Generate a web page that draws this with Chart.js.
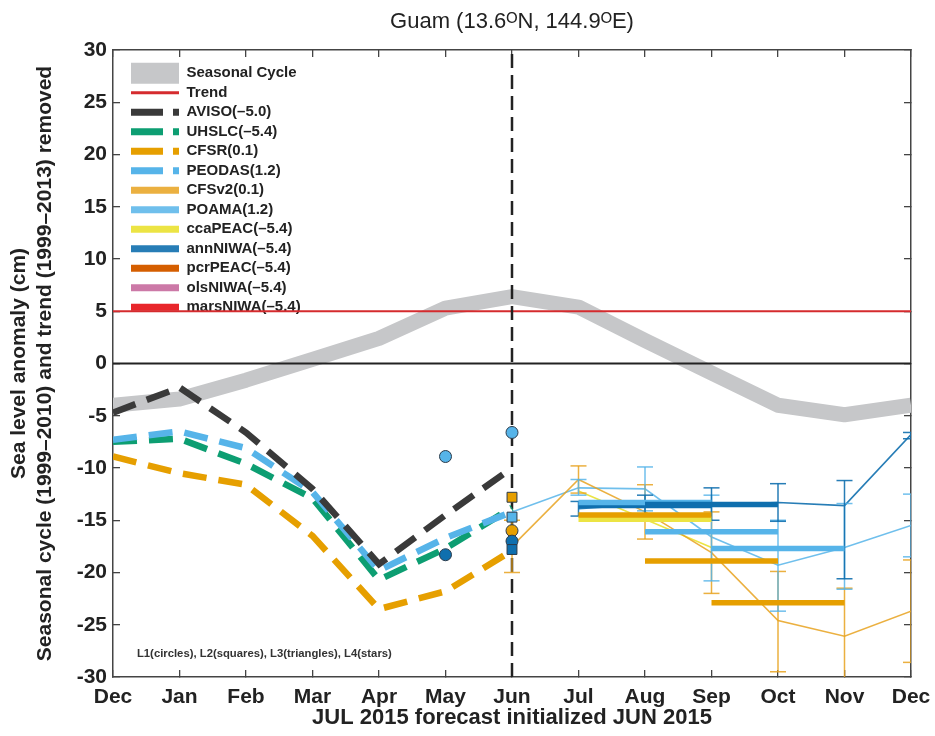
<!DOCTYPE html>
<html><head><meta charset="utf-8">
<script src="https://cdn.jsdelivr.net/npm/chart.js@4.4.1/dist/chart.umd.min.js"></script>
<style>html,body{margin:0;padding:0;background:#fff}canvas{display:block}</style>
</head><body>
<canvas id="c" width="935" height="736"></canvas>
<script>
// ---------------- data ----------------
const months = ['Dec','Jan','Feb','Mar','Apr','May','Jun','Jul','Aug','Sep','Oct','Nov','Dec'];
const yTickValues = [-30,-25,-20,-15,-10,-5,0,5,10,15,20,25,30];
const titleText = 'Guam (13.6\u1D3CN, 144.9\u1D3CE)';
const xTitle = 'JUL 2015 forecast initialized JUN 2015';
const yTitle = ['Sea level anomaly (cm)', 'Seasonal cycle (1999\u20132010) and trend (1999\u20132013) removed'];
const noteText = 'L1(circles), L2(squares), L3(triangles), L4(stars)';

const seasonalCycle = [-4.0, -3.4, -1.6, 0.4, 2.4, 5.3, 6.4, 5.4, 2.2, -0.9, -4.0, -4.9, -4.0];
const trendLevel = 5;
const zeroLevel = 0;
const initMonth = 6;

const obsMonths = [0, 1, 2, 3, 4, 5, 6];
const aviso  = [-4.7, -2.3, -6.6, -12.0, -19.2, -14.5, -10.0];
const uhslc  = [-7.5, -7.2, -9.6, -12.9, -20.7, -17.7, -13.8];
const cfsr   = [-8.9, -10.5, -11.6, -16.5, -23.5, -21.8, -17.9];
const peodas = [-7.3, -6.5, -8.1, -12.3, -19.8, -16.7, -14.2];

const cfsv2Months = [6, 7, 8, 9, 10, 11, 12];
const cfsv2     = [-17.5, -11.1, -14.2, -18.1, -24.6, -26.1, -23.7];
const cfsv2High = [-15.0, -9.8, -11.6, -14.2, -19.9, -21.5, -18.8];
const cfsv2Low  = [-20.0, -12.4, -16.8, -22.0, -29.5, -30.7, -28.6];

const poamaMonths = [6, 7, 8, 9, 10, 11, 12];
const poama = [-14.2, -11.9, -12.0, -16.6, -19.3, -17.6, -15.5];
const poamaErrMonths = [7, 8, 9, 10, 11, 12];
const poamaHigh = [-11.1, -9.9, -12.6, -15.0, -13.4, -12.5];
const poamaLow  = [-12.6, -14.1, -20.8, -23.7, -21.6, -18.5];

const annNiwaMonths = [7, 8, 9, 10, 11, 12];
const annNiwa     = [-13.9, -13.5, -13.5, -13.3, -13.6, -6.8];
const annNiwaHigh = [-13.2, -12.6, -11.9, -11.5, -11.2, -6.6];
const annNiwaLow  = [-14.6, -14.4, -15.0, -15.1, -20.6, -7.2];

const ccaPeacMonths = [7, 8, 9];
const ccaPeac = [-12.2, -14.9, -17.6];

const seasonStart = [7, 8, 9];   // JAS, ASO, SON
const seasonEnd   = [9, 10, 11];
const cfsv2Seasonal   = [-14.5, -18.9, -22.9];
const poamaSeasonal   = [-13.3, -16.1, -17.7];
const annNiwaSeasonal = [-13.6, -13.5, null];
const ccaPeacSeasonal = [-14.9, null, null];

const circleMonths = [5, 5, 6, 6, 6];
const circleValues = [-8.9, -18.3, -6.6, -16.0, -17.0];
const circleModels = ['POAMA', 'annNIWA', 'POAMA', 'CFSv2', 'annNIWA'];
const squareMonths = [6, 6, 6];
const squareValues = [-12.8, -14.7, -17.8];
const squareModels = ['CFSv2', 'POAMA', 'annNIWA'];

const legendLabels = ['Seasonal Cycle','Trend','AVISO(\u20135.0)','UHSLC(\u20135.4)','CFSR(0.1)','PEODAS(1.2)',
  'CFSv2(0.1)','POAMA(1.2)','ccaPEAC(\u20135.4)','annNIWA(\u20135.4)','pcrPEAC(\u20135.4)','olsNIWA(\u20135.4)','marsNIWA(\u20135.4)'];

// ---------------- style ----------------
const COL = {
  gray:'#c6c7c9', trend:'#d52b2e', black:'#3a3a3a', green:'#0d9e72', orange:'#e69f00',
  lightblue:'#56b4e9', yellow:'#ece444', blue:'#0f6fae', vermillion:'#d55e00', pink:'#cc79a7', mars:'#e8262b',
  orangeThin:'rgba(232,162,30,0.85)', lightThin:'rgba(86,180,233,0.85)', blueThin:'rgba(15,111,174,0.9)'
};
const modelColor = { POAMA: COL.lightblue, annNIWA: COL.blue, CFSv2: COL.orange };
const FONT = '"Liberation Sans", Arial, Helvetica, sans-serif';
const notePos = [0.36, -27.75];

const pts = (xs, ys) => xs.map((x, i) => ({x, y: ys[i]}));
const errPts = (xs, hi, lo) => xs.flatMap((x, i) => [{x, y: hi[i]}, {x, y: lo[i]}, {x, y: null}]);
const seasonPts = (vals, only) => vals.flatMap((v, i) => (v === null || (only !== undefined && only !== i)) ? [] :
  [{x: seasonStart[i], y: v}, {x: seasonEnd[i], y: v}, {x: seasonEnd[i], y: null}]);
const flatLine = (v) => [{x: 0, y: v}, {x: months.length - 1, y: v}];

const base = {pointRadius: 0, pointHoverRadius: 0, tension: 0, fill: false, spanGaps: false};
const dashed = [24, 12];
const legendDash = [32, 10];

const datasets = [
  {...base, label: 'Seasonal Cycle', inLegend: true, legendWidth: 21, data: pts(months.map((m,i)=>i), seasonalCycle),
    borderColor: COL.gray, borderWidth: 15, borderJoinStyle: 'round', order: 100},
  {...base, label: 'Zero', data: flatLine(zeroLevel), borderColor: '#222', borderWidth: 2, order: 95},
  {...base, label: 'Trend', inLegend: true, legendWidth: 3, data: flatLine(trendLevel), borderColor: COL.trend, borderWidth: 2, order: 94},
  {...base, label: 'Init', data: [{x: initMonth, y: -30}, {x: initMonth, y: 30}], borderColor: '#222', borderWidth: 2.5, borderDash: [14, 7], order: 90},
  {...base, label: 'CFSR(0.1)', inLegend: true, legendWidth: 7, legendDash, data: pts(obsMonths, cfsr), borderColor: COL.orange, borderWidth: 6.5, borderDash: dashed, order: 80},
  {...base, label: 'UHSLC(\u20135.4)', inLegend: true, legendWidth: 7, legendDash, data: pts(obsMonths, uhslc), borderColor: COL.green, borderWidth: 6.5, borderDash: dashed, order: 78},
  {...base, label: 'PEODAS(1.2)', inLegend: true, legendWidth: 7, legendDash, data: pts(obsMonths, peodas), borderColor: COL.lightblue, borderWidth: 6.5, borderDash: dashed, order: 76},
  {...base, label: 'AVISO(\u20135.0)', inLegend: true, legendWidth: 7, legendDash, data: pts(obsMonths, aviso), borderColor: COL.black, borderWidth: 6.5, borderDash: dashed, order: 74},
  {...base, label: 'CFSv2(0.1)', inLegend: true, legendWidth: 7, data: pts(cfsv2Months, cfsv2), borderColor: COL.orangeThin, borderWidth: 1.6, order: 60},
  {...base, label: 'POAMA(1.2)', inLegend: true, legendWidth: 7, data: pts(poamaMonths, poama), borderColor: COL.lightThin, borderWidth: 1.6, order: 61},
  {...base, label: 'ccaPEAC(\u20135.4)', inLegend: true, legendWidth: 7, data: pts(ccaPeacMonths, ccaPeac), borderColor: COL.yellow, borderWidth: 1.6, order: 62},
  {...base, label: 'annNIWA(\u20135.4)', inLegend: true, legendWidth: 7, data: pts(annNiwaMonths, annNiwa), borderColor: COL.blueThin, borderWidth: 1.6, order: 59},
  {...base, label: 'pcrPEAC(\u20135.4)', inLegend: true, legendWidth: 7, data: [], borderColor: COL.vermillion, borderWidth: 2, order: 58},
  {...base, label: 'olsNIWA(\u20135.4)', inLegend: true, legendWidth: 7, data: [], borderColor: COL.pink, borderWidth: 2, order: 58},
  {...base, label: 'marsNIWA(\u20135.4)', inLegend: true, legendWidth: 7, data: [], borderColor: COL.mars, borderWidth: 2, order: 58},
  // error bars
  {...base, label: 'CFSv2 spread', data: errPts(cfsv2Months, cfsv2High, cfsv2Low), borderColor: COL.orangeThin, borderWidth: 1.5,
    pointStyle: 'line', pointRadius: 8, pointBorderWidth: 1.5, pointBorderColor: COL.orangeThin, clip: 0, order: 57},
  {...base, label: 'POAMA spread', data: errPts(poamaErrMonths, poamaHigh, poamaLow), borderColor: COL.lightThin, borderWidth: 1.5,
    pointStyle: 'line', pointRadius: 8, pointBorderWidth: 1.5, pointBorderColor: COL.lightThin, clip: 0, order: 56},
  {...base, label: 'annNIWA spread', data: errPts(annNiwaMonths, annNiwaHigh, annNiwaLow), borderColor: COL.blueThin, borderWidth: 1.5,
    pointStyle: 'line', pointRadius: 8, pointBorderWidth: 1.5, pointBorderColor: COL.blueThin, clip: 0, order: 55},
  // seasonal means
  {...base, label: 'ccaPEAC seasonal', data: seasonPts(ccaPeacSeasonal), borderColor: COL.yellow, borderWidth: 5.5, order: 50},
  {...base, label: 'annNIWA JAS', data: seasonPts(annNiwaSeasonal, 0), borderColor: COL.blue, borderWidth: 5.5, order: 49.5},
  {...base, label: 'POAMA seasonal', data: seasonPts(poamaSeasonal), borderColor: COL.lightblue, borderWidth: 5.5, order: 49},
  {...base, label: 'annNIWA ASO', data: seasonPts(annNiwaSeasonal, 1), borderColor: COL.blue, borderWidth: 5.5, order: 48},
  {...base, label: 'CFSv2 seasonal', data: seasonPts(cfsv2Seasonal), borderColor: COL.orange, borderWidth: 5.5, order: 47},
  // L1 / L2 markers
  {...base, label: 'L1 circles', showLine: false, data: pts(circleMonths, circleValues), pointStyle: 'circle', pointRadius: 6,
    pointBackgroundColor: circleModels.map(m => modelColor[m]), pointBorderColor: '#2a3a4a', pointBorderWidth: 1, order: 10},
  {...base, label: 'L2 squares', showLine: false, data: pts(squareMonths, squareValues), pointStyle: 'rect', pointRadius: 7,
    pointBackgroundColor: squareModels.map(m => modelColor[m]), pointBorderColor: '#2a3a4a', pointBorderWidth: 1, order: 9}
];

const AXIS = '#444';
const tickFont = {family: FONT, size: 21, weight: 'bold'};
const noPad = s => { s.paddingLeft = 0; s.paddingRight = 0; };

const placeLegend = {
  id: 'placeLegend',
  afterLayout(chart) {
    const lg = chart.legend, ca = chart.chartArea;
    if (!lg) return;
    lg.left = ca.left + 13.5; lg.top = ca.top + 11.3;
    lg.right = ca.right; lg.bottom = ca.bottom;
  }
};
const notePlugin = {
  id: 'note',
  afterDatasetsDraw(chart) {
    const {ctx, scales: {x, y}} = chart;
    ctx.save();
    ctx.font = 'bold 11.3px ' + FONT;
    ctx.fillStyle = '#333';
    ctx.textBaseline = 'middle';
    ctx.fillText(noteText, x.getPixelForValue(notePos[0]), y.getPixelForValue(notePos[1]));
    ctx.restore();
  }
};

Chart.defaults.font.family = FONT;
Chart.defaults.color = '#222';

new Chart(document.getElementById('c'), {
  type: 'line',
  data: {datasets},
  plugins: [placeLegend, notePlugin],
  options: {
    responsive: false, animation: false, events: [],
    layout: {padding: 0},
    plugins: {
      tooltip: {enabled: false},
      title: {display: true, text: titleText, fullSize: false, color: '#222',
        font: {family: FONT, size: 22, weight: 'normal'}, padding: {top: 9, bottom: 3}},
      legend: {
        display: true, position: 'chartArea', align: 'start',
        labels: {
          usePointStyle: true, pointStyleWidth: 48, boxWidth: 48, boxHeight: 15, padding: 4.5,
          color: '#222', font: {family: FONT, size: 15, weight: 'bold'},
          generateLabels(chart) {
            const dss = chart.data.datasets;
            return legendLabels.map(lbl => {
              const i = dss.findIndex(d => d.label === lbl);
              const d = dss[i];
              return {text: lbl, datasetIndex: i, strokeStyle: d.borderColor, fillStyle: d.borderColor,
                lineWidth: d.legendWidth, lineDash: d.legendDash || [], lineCap: 'butt',
                pointStyle: 'line', hidden: false, fontColor: '#222'};
            });
          }
        }
      }
    },
    scales: {
      x: {type: 'linear', position: 'bottom', min: 0, max: months.length - 1,
        afterBuildTicks: s => { s.ticks = months.map((m, i) => ({value: i})); },
        afterFit: s => { s.height = 59; noPad(s); },
        ticks: {autoSkip: false, maxRotation: 0, padding: 15, font: tickFont, color: '#222', callback: v => months[v]},
        grid: {drawOnChartArea: false, drawTicks: true, tickLength: -7, color: AXIS, lineWidth: 1.3},
        border: {display: true, color: AXIS, width: 1.5},
        title: {display: true, text: xTitle, color: '#222', font: {family: FONT, size: 22, weight: 'bold'}, padding: {top: 0, bottom: 5}}
      },
      x2: {type: 'linear', axis: 'x', position: 'top', min: 0, max: months.length - 1,
        afterBuildTicks: s => { s.ticks = months.map((m, i) => ({value: i})); },
        afterFit: s => { s.height = 11.6; noPad(s); },
        ticks: {display: false},
        grid: {drawOnChartArea: false, drawTicks: true, tickLength: -7, color: AXIS, lineWidth: 1.3},
        border: {display: true, color: AXIS, width: 1.5}
      },
      y: {type: 'linear', position: 'left', min: -30, max: 30,
        afterBuildTicks: s => { s.ticks = yTickValues.map(v => ({value: v})); },
        afterFit: s => { s.width = 113; },
        ticks: {padding: 13, font: tickFont, color: '#222'},
        grid: {drawOnChartArea: false, drawTicks: true, tickLength: -7, color: AXIS, lineWidth: 1.3},
        border: {display: true, color: AXIS, width: 1.5},
        title: {display: true, text: yTitle, color: '#222', font: {family: FONT, size: 21, weight: 'bold', lineHeight: 1.25}, padding: {top: 6, bottom: 0}}
      },
      y2: {type: 'linear', axis: 'y', position: 'right', min: -30, max: 30,
        afterBuildTicks: s => { s.ticks = yTickValues.map(v => ({value: v})); },
        afterFit: s => { s.width = 24; },
        ticks: {display: false},
        grid: {drawOnChartArea: false, drawTicks: true, tickLength: -7, color: AXIS, lineWidth: 1.3},
        border: {display: true, color: AXIS, width: 1.5}
      }
    }
  }
});
</script>
</body></html>
